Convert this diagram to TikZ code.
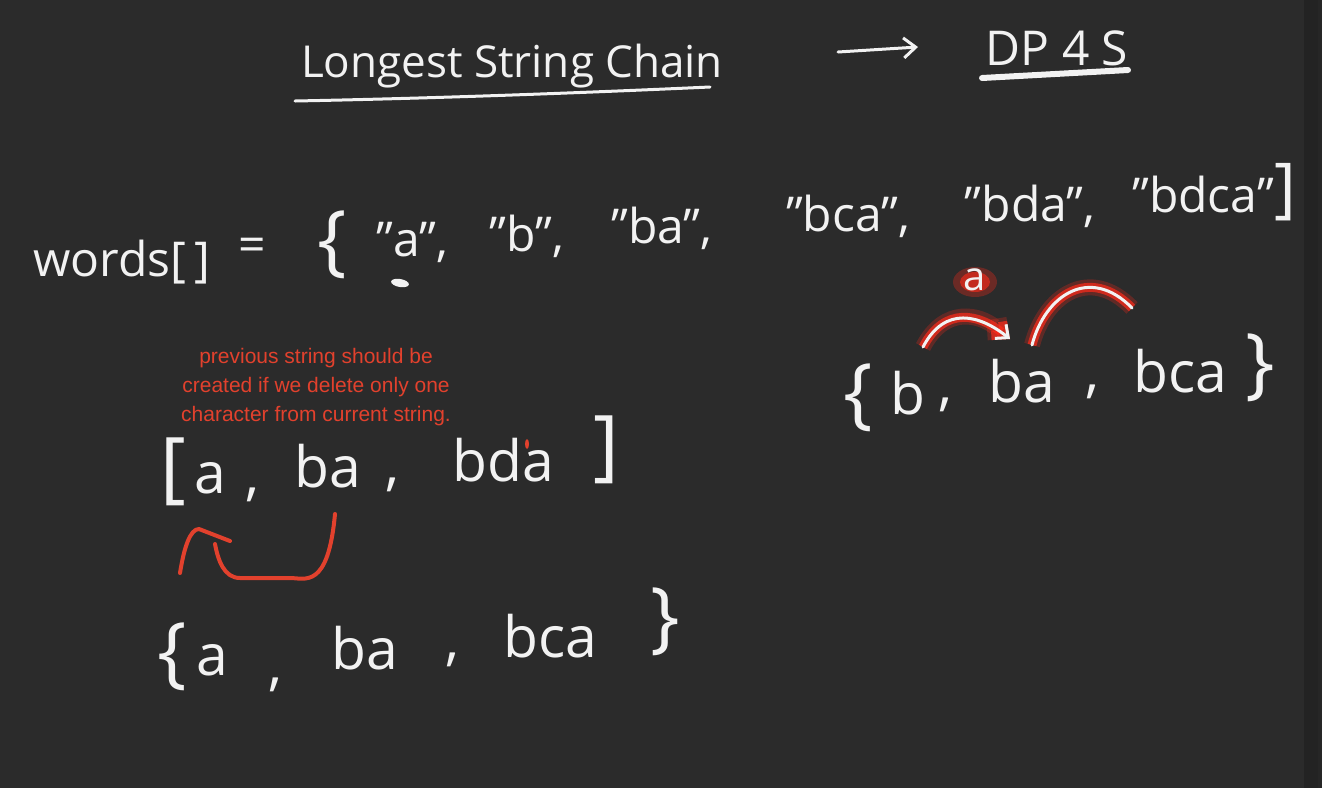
\documentclass[tikz,border=0pt]{standalone}
\usepackage{fontspec}
\setmainfont{Open Sans}
\newfontfamily\notefont{Liberation Sans}
\usetikzlibrary{arrows.meta}
\definecolor{board}{HTML}{2B2B2B}
\definecolor{boardedge}{HTML}{232323}
\definecolor{chalkwhite}{HTML}{F2F2F2}
\definecolor{redink}{HTML}{E2412D}
\definecolor{glowred}{HTML}{FF2A1A}

\begin{document}
\begin{tikzpicture}[x=1pt, y=-1pt,
    handtext/.style={text=chalkwhite, inner sep=0pt, font=\fontsize{48}{48}\selectfont},
    lowtext/.style={handtext, font=\fontsize{57}{57}\selectfont},
    bigmark/.style={handtext, font=\fontsize{78}{78}\selectfont},
    stroke/.style={draw=chalkwhite, line width=3.5pt, line cap=round, line join=round},
    redstroke/.style={draw=redink, line width=4pt, line cap=round, line join=round},
    glowstroke/.style={draw=chalkwhite, line width=3pt, line cap=round,
        preaction={draw=glowred, line width=16pt, opacity=.25},
        preaction={draw=glowred, line width=9pt, opacity=.7}}]
    % board
    \fill[board] (0,0) rectangle (1322,788);
    \fill[boardedge] (1304,0) rectangle (1322,788);
    \fill[black!85] (1318,0) rectangle (1322,788);
    \useasboundingbox (0,0) rectangle (1322,788);

    % title
    \node[handtext, font=\fontsize{44}{44}\selectfont] (title) at (512,66) {Longest String Chain};
    \draw[stroke, line width=3pt] (295,101) .. controls (450,98) and (600,92) .. (710,87);
    \node[handtext, font=\fontsize{48}{48}\selectfont] (dp) at (1057,48) {DP 4 S};
    \draw[stroke, line width=6pt] (982,78) -- (1128,70);
    \coordinate (arrA) at (838,52);
    \coordinate (arrB) at (918,47);
    \draw[stroke, line width=3pt, -{Straight Barb[length=12pt, width=20pt]}] (arrA) -- (arrB);

    % words[] line
    \foreach \px/\py/\tx in {122/262/{words[\,]}, 252/250/{=}, 412/242/{"a",},
        527/236/{"b",}, 662/228/{"ba",}, 848/216/{"bca",}, 1030/206/{"bda",}, 1203/194/{"bdca"}}
        \node[handtext] (w\px) at (\px,\py) {\tx};
    \node[bigmark] (wopen) at (332,245) {\{};
    \node[bigmark, font=\fontsize{66}{66}\selectfont] (wclose) at (1285,192) {]};
    \fill[chalkwhite, rotate around={-10:(400,283)}] (400,283) ellipse (9 and 4);

    % glowing hint over the right set
    \fill[glowred, opacity=.3] (975,282) ellipse (22 and 15);
    \fill[glowred, opacity=.6] (975,282) ellipse (15 and 10);
    \node[handtext, font=\fontsize{40}{40}\selectfont] (hint) at (975,280) {a};
    \coordinate (hopA) at (923,347);
    \coordinate (hopB) at (1010,339);
    \draw[glowstroke, -{Straight Barb[length=10pt, width=18pt]}] (hopA) .. controls (945,305) and (980,315) .. (hopB);
    \coordinate (hopC) at (1032,345);
    \coordinate (hopD) at (1132,308);
    \draw[glowstroke] (hopC) .. controls (1045,295) and (1090,265) .. (hopD);

    % right set
    \node[bigmark] (ropen) at (858,398) {\{};
    \node[lowtext] (rb) at (908,393) {b};
    \node[lowtext] (rc1) at (945,405) {,};
    \node[lowtext] (rba) at (1022,381) {ba};
    \node[lowtext] (rc2) at (1092,392) {,};
    \node[lowtext] (rbca) at (1180,371) {bca};
    \node[bigmark] (rclose) at (1260,368) {\}};

    % red note
    \node[text=redink, align=center, inner sep=0pt, font=\notefont\fontsize{21}{29}\selectfont]
        (note) at (316,387) {previous string should be\\created if we delete only one\\character from current string.};

    % [a, ba, bda]
    \node[bigmark] (lopen) at (173,472) {[};
    \node[lowtext] (la) at (210,478) {a};
    \node[lowtext] (lc1) at (252,495) {,};
    \node[lowtext] (lba) at (328,466) {ba};
    \node[lowtext] (lc2) at (392,485) {,};
    \node[lowtext] (lbda) at (503,460) {bda};
    \node[bigmark] (lclose) at (606,450) {]};
    \fill[redink] (527,444) ellipse (2 and 5);

    % deletion arrow
    \coordinate (delA) at (335,514);
    \coordinate (delB) at (199,529);
    \draw[redstroke] (delA) .. controls (328,590) and (305,578) .. (290,578) -- (240,578)
        .. controls (224,578) and (218,560) .. (215,544);
    \draw[redstroke] (180,573) .. controls (184,548) and (190,529) .. (delB) -- (230,541);

    % {a, ba, bca}
    \node[bigmark] (bopen) at (172,657) {\{};
    \node[lowtext] (ba1) at (212,660) {a};
    \node[lowtext] (bc1) at (275,685) {,};
    \node[lowtext] (bba) at (365,648) {ba};
    \node[lowtext] (bc2) at (452,660) {,};
    \node[lowtext] (bbca) at (550,636) {bca};
    \node[bigmark] (bclose) at (665,622) {\}};
\end{tikzpicture}
\end{document}
